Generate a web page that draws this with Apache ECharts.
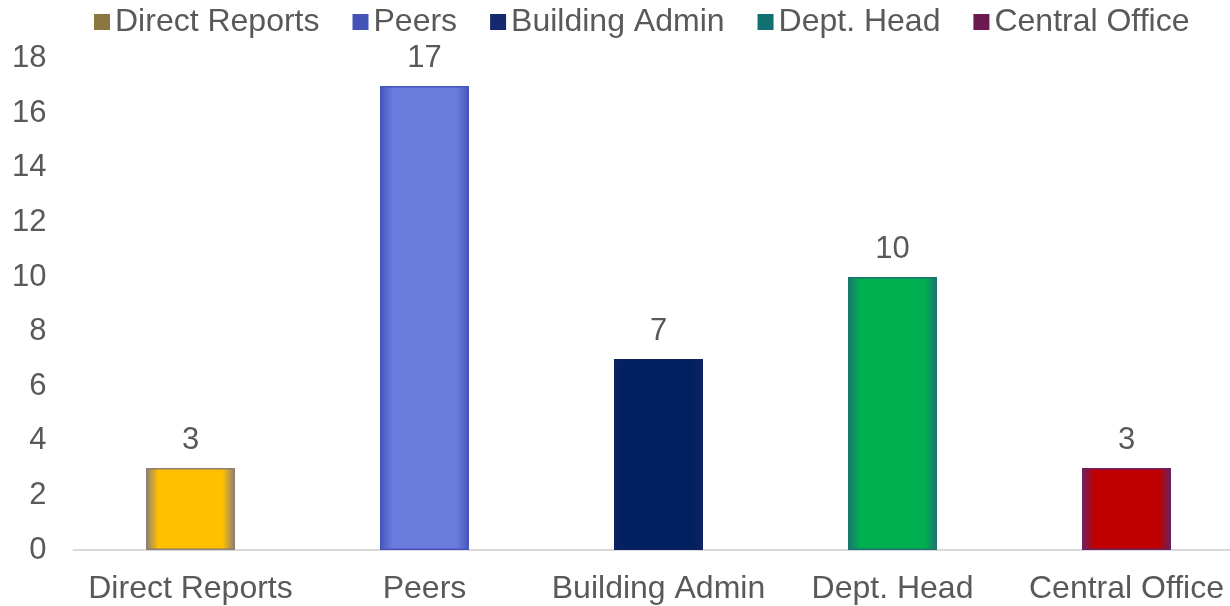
<!DOCTYPE html>
<html>
<head>
<meta charset="utf-8">
<script src="https://cdn.jsdelivr.net/npm/echarts@6/dist/echarts.min.js"></script>
<style>
html,body{margin:0;padding:0;background:#fff;}
#chart{width:1230px;height:606px;}
</style>
</head>
<body>
<div id="chart"></div>
<script>
const categories = ['Direct Reports', 'Peers', 'Building Admin', 'Dept. Head', 'Central Office'];
const values = [3, 17, 7, 10, 3];
const yTicks = [0, 2, 4, 6, 8, 10, 12, 14, 16, 18];
const barColors = ['#FFC000', '#6A7BDC', '#002060', '#00B050', '#C00000'];
const edgeColors = ['#8C7E78', '#4555BD', '#0E2262', '#1C7470', '#6B2260'];
const legendColors = ['#8A7840', '#4453B6', '#14296E', '#127070', '#6A1A4E'];

const font = 'Liberation Sans, Arial, sans-serif';
const textColor = '#595959';

function grad(c, e) {
  return {
    type: 'linear', x: 0, y: 0, x2: 1, y2: 0,
    colorStops: [
      {offset: 0, color: e},
      {offset: 0.14, color: c},
      {offset: 0.86, color: c},
      {offset: 1, color: e}
    ]
  };
}

const series = categories.map((name, i) => ({
  name: name,
  type: 'bar',
  stack: 'all',
  barWidth: 89,
  color: legendColors[i],
  data: categories.map((_, j) => j === i ? {
    value: values[j],
    itemStyle: {color: grad(barColors[i], edgeColors[i]), borderColor: edgeColors[i], borderWidth: 1.5}
  } : '-'),
  label: {
    show: true, position: 'top', distance: 12,
    color: textColor, fontSize: 31, fontFamily: font
  }
}));

const chart = echarts.init(document.getElementById('chart'));
chart.setOption({
  animation: false,
  backgroundColor: '#fff',
  legend: {
    top: 1, left: 89,
    itemWidth: 16, itemHeight: 16, itemGap: 33,
    icon: 'rect',
    textStyle: {color: textColor, fontSize: 32, fontFamily: font},
    data: categories.map((c, i) => ({name: c, itemStyle: {color: legendColors[i]}}))
  },
  grid: {left: 73.5, right: -13.5, top: 58.6, bottom: 56, containLabel: false, outerBoundsMode: 'none'},
  xAxis: {
    type: 'category',
    data: categories,
    axisLine: {show: true, lineStyle: {color: '#D9D9D9', width: 2}},
    axisTick: {show: false},
    axisLabel: {color: textColor, fontSize: 32, fontFamily: font, margin: 23, interval: 0}
  },
  yAxis: {
    type: 'value',
    min: yTicks[0], max: yTicks[yTicks.length - 1], interval: 2,
    splitLine: {show: false},
    axisLine: {show: false},
    axisTick: {show: false},
    axisLabel: {color: textColor, fontSize: 31, fontFamily: font, margin: 27}
  },
  series: series
});
</script>
</body>
</html>
